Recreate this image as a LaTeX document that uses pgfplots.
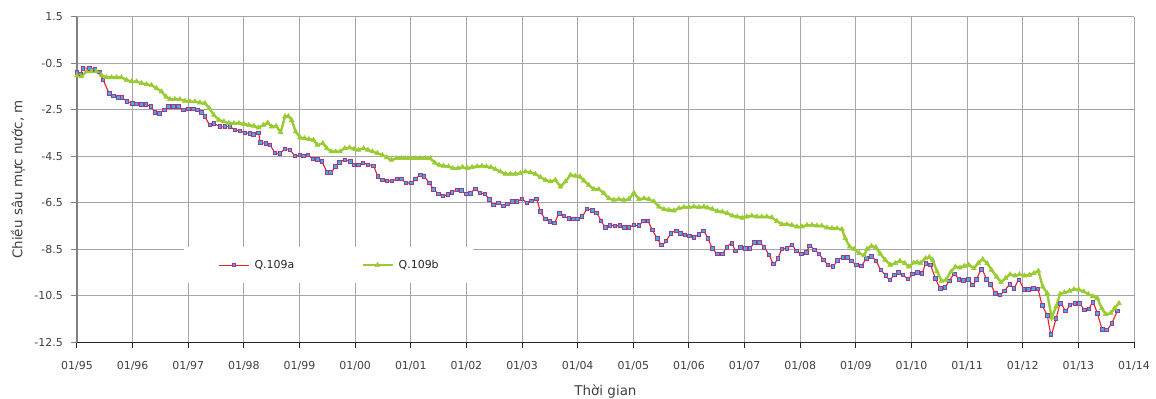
\documentclass[border=0pt]{standalone}
\usepackage{pgfplots}
\pgfplotsset{compat=1.18}
\usepackage{fontspec}
\setmainfont{DejaVu Sans}
\definecolor{redl}{RGB}{240,30,40}
\definecolor{sqedge}{RGB}{165,55,135}
\definecolor{sqfill}{RGB}{60,175,230}
\definecolor{grn}{RGB}{153,204,51}
\definecolor{gridc}{RGB}{166,166,166}
\definecolor{txt}{RGB}{64,64,64}
\begin{document}
\begin{tikzpicture}
\begin{axis}[
  at={(0,0)}, anchor=south west,
  scale only axis, width=1057bp, height=325.6bp,
  xmin=1995, xmax=2014, ymin=-12.5, ymax=1.5,
  xtick={1995,1996,1997,1998,1999,2000,2001,2002,2003,2004,2005,2006,2007,2008,2009,2010,2011,2012,2013,2014},
  xticklabels={01/95,01/96,01/97,01/98,01/99,01/00,01/01,01/02,01/03,01/04,01/05,01/06,01/07,01/08,01/09,01/10,01/11,01/12,01/13,01/14},
  ytick={1.5,-0.5,-2.5,-4.5,-6.5,-8.5,-10.5,-12.5},
  yticklabels={1.5,-0.5,-2.5,-4.5,-6.5,-8.5,-10.5,-12.5},
  axis lines=left,
  x axis line style={-, black!85, line width=1.2bp},
  y axis line style={-, black!50, line width=2bp},
  tick align=outside, major tick length=6bp,
  xtick style={black!85, line width=1bp},
  ytick style={black!50, line width=1bp},
  grid=major, grid style={gridc, line width=1bp},
  tick label style={font=\fontsize{11}{13}\selectfont, text=txt},
  xticklabel style={anchor=north, inner sep=0pt, yshift=-13bp},
  yticklabel style={anchor=east, inner sep=0pt, xshift=-8bp},
  xlabel={Thời gian},
  ylabel={Chiều sâu mực nước, m},
  xlabel style={at={(axis description cs:0.5,-0.1505)}, anchor=center, font=\fontsize{13.5}{15}\selectfont, text=txt},
  ylabel style={at={(axis description cs:-0.0558,0.5)}, anchor=center, font=\fontsize{13.5}{15}\selectfont, text=txt},
  legend columns=2,
  legend style={at={(0.238,0.237)}, anchor=center, draw=none, fill=white,
    inner xsep=34bp, inner ysep=13bp, font=\fontsize{11}{13}\selectfont,
    nodes={inner sep=0pt, text=black!85},
    /tikz/every odd column/.append style={column sep=5bp},
    /tikz/every even column/.append style={column sep=67bp}},
  legend image code/.code={\draw[mark repeat=2,mark phase=2,#1] plot coordinates {(0bp,0bp) (15bp,0bp) (30bp,0bp)};},
]
\addplot[redl, line width=1.1bp, smooth, tension=0.4, mark=square*, mark size=1.8bp,
  mark options={draw=sqedge, fill=sqfill, line width=0.9bp, solid}] coordinates {
(1995.00,-0.91) (1995.06,-0.96) (1995.11,-0.72) (1995.22,-0.72) (1995.32,-0.77) (1995.40,-0.88)
(1995.47,-1.22) (1995.58,-1.79) (1995.65,-1.90) (1995.74,-1.98) (1995.81,-1.98) (1995.90,-2.15)
(1996.00,-2.22) (1996.07,-2.25) (1996.16,-2.27) (1996.24,-2.27) (1996.33,-2.37) (1996.40,-2.61)
(1996.48,-2.65) (1996.57,-2.51) (1996.64,-2.37) (1996.73,-2.37) (1996.82,-2.37) (1996.91,-2.51)
(1997.00,-2.47) (1997.09,-2.47) (1997.17,-2.51) (1997.24,-2.61) (1997.30,-2.80) (1997.39,-3.16)
(1997.46,-3.08) (1997.57,-3.23) (1997.66,-3.23) (1997.75,-3.23) (1997.84,-3.37) (1997.93,-3.41)
(1998.02,-3.49) (1998.11,-3.51) (1998.17,-3.56) (1998.26,-3.49) (1998.30,-3.90) (1998.40,-3.94)
(1998.47,-4.02) (1998.56,-4.35) (1998.65,-4.37) (1998.74,-4.19) (1998.83,-4.23) (1998.92,-4.49)
(1999.01,-4.45) (1999.07,-4.49) (1999.15,-4.45) (1999.24,-4.62) (1999.32,-4.63) (1999.40,-4.73)
(1999.50,-5.19) (1999.56,-5.20) (1999.65,-4.95) (1999.72,-4.76) (1999.82,-4.66) (1999.91,-4.73)
(1999.98,-4.88) (2000.06,-4.88) (2000.14,-4.78) (2000.23,-4.88) (2000.33,-4.92) (2000.41,-5.38)
(2000.49,-5.52) (2000.57,-5.56) (2000.66,-5.56) (2000.75,-5.48) (2000.83,-5.48) (2000.91,-5.64)
(2001.01,-5.64) (2001.08,-5.48) (2001.17,-5.31) (2001.24,-5.38) (2001.33,-5.64) (2001.41,-5.92)
(2001.50,-6.12) (2001.58,-6.21) (2001.67,-6.13) (2001.74,-6.05) (2001.83,-5.95) (2001.91,-5.98)
(2002.00,-6.12) (2002.07,-6.09) (2002.16,-5.91) (2002.24,-6.07) (2002.33,-6.12) (2002.41,-6.35)
(2002.49,-6.60) (2002.58,-6.50) (2002.67,-6.64) (2002.74,-6.55) (2002.83,-6.45) (2002.91,-6.45)
(2003.00,-6.34) (2003.09,-6.50) (2003.17,-6.42) (2003.26,-6.34) (2003.33,-6.88) (2003.42,-7.20)
(2003.50,-7.31) (2003.58,-7.36) (2003.67,-6.95) (2003.75,-7.07) (2003.84,-7.17) (2003.92,-7.20)
(2004.00,-7.20) (2004.08,-7.10) (2004.17,-6.77) (2004.26,-6.84) (2004.34,-6.93) (2004.42,-7.28)
(2004.50,-7.55) (2004.58,-7.48) (2004.67,-7.50) (2004.76,-7.48) (2004.84,-7.55) (2004.92,-7.55)
(2005.01,-7.46) (2005.10,-7.48) (2005.18,-7.28) (2005.26,-7.28) (2005.34,-7.67) (2005.43,-8.03)
(2005.51,-8.32) (2005.59,-8.14) (2005.68,-7.81) (2005.77,-7.71) (2005.85,-7.81) (2005.93,-7.88)
(2006.01,-7.93) (2006.09,-7.98) (2006.18,-7.86) (2006.26,-7.71) (2006.34,-8.03) (2006.42,-8.46)
(2006.51,-8.70) (2006.60,-8.70) (2006.68,-8.41) (2006.77,-8.24) (2006.84,-8.57) (2006.93,-8.41)
(2007.02,-8.46) (2007.10,-8.46) (2007.18,-8.20) (2007.27,-8.20) (2007.35,-8.41) (2007.44,-8.74)
(2007.52,-9.13) (2007.60,-8.89) (2007.67,-8.49) (2007.76,-8.46) (2007.85,-8.32) (2007.93,-8.57)
(2008.02,-8.70) (2008.11,-8.63) (2008.17,-8.36) (2008.26,-8.53) (2008.34,-8.70) (2008.42,-8.96)
(2008.50,-9.17) (2008.59,-9.24) (2008.67,-8.98) (2008.77,-8.84) (2008.85,-8.84) (2008.92,-9.00)
(2009.01,-9.17) (2009.10,-9.21) (2009.19,-8.89) (2009.28,-8.82) (2009.36,-9.00) (2009.45,-9.39)
(2009.54,-9.63) (2009.61,-9.82) (2009.69,-9.60) (2009.77,-9.50) (2009.85,-9.60) (2009.94,-9.78)
(2010.02,-9.56) (2010.11,-9.49) (2010.19,-9.53) (2010.26,-9.10) (2010.34,-9.17) (2010.43,-9.75)
(2010.52,-10.18) (2010.60,-10.13) (2010.68,-9.86) (2010.77,-9.56) (2010.85,-9.79) (2010.93,-9.84)
(2011.02,-9.79) (2011.10,-10.03) (2011.17,-9.79) (2011.26,-9.36) (2011.35,-9.79) (2011.42,-10.01)
(2011.51,-10.39) (2011.59,-10.46) (2011.67,-10.29) (2011.77,-10.01) (2011.84,-10.18) (2011.93,-9.82)
(2012.02,-10.22) (2012.10,-10.22) (2012.19,-10.18) (2012.27,-10.20) (2012.35,-10.92) (2012.44,-11.35)
(2012.51,-12.15) (2012.60,-11.47) (2012.68,-10.82) (2012.77,-11.15) (2012.85,-10.90) (2012.94,-10.82)
(2013.02,-10.82) (2013.11,-11.11) (2013.19,-11.07) (2013.26,-10.78) (2013.34,-11.25) (2013.43,-11.94)
(2013.51,-11.97) (2013.60,-11.68) (2013.70,-11.15)
};
\addlegendentry{Q.109a}
\addplot[grn, line width=2.4bp, mark=triangle*, mark size=2.8bp,
  mark options={draw=grn, fill=grn, line width=0.5bp, solid}] coordinates {
(1995.00,-1.03) (1995.08,-1.07) (1995.17,-0.86) (1995.26,-0.86) (1995.35,-0.86) (1995.44,-1.01)
(1995.53,-1.11) (1995.62,-1.11) (1995.71,-1.11) (1995.80,-1.11) (1995.89,-1.22) (1995.98,-1.29)
(1996.07,-1.29) (1996.16,-1.36) (1996.25,-1.41) (1996.34,-1.44) (1996.43,-1.58) (1996.52,-1.72)
(1996.60,-1.94) (1996.67,-2.05) (1996.76,-2.05) (1996.85,-2.05) (1996.94,-2.12) (1997.03,-2.15)
(1997.12,-2.15) (1997.21,-2.20) (1997.30,-2.22) (1997.38,-2.44) (1997.46,-2.73) (1997.55,-2.94)
(1997.64,-3.01) (1997.73,-3.08) (1997.82,-3.08) (1997.91,-3.08) (1998.00,-3.11) (1998.09,-3.16)
(1998.18,-3.20) (1998.26,-3.27) (1998.35,-3.16) (1998.43,-3.06) (1998.50,-3.23) (1998.58,-3.20)
(1998.66,-3.47) (1998.74,-2.79) (1998.80,-2.78) (1998.86,-2.95) (1998.93,-3.44) (1999.01,-3.70)
(1999.09,-3.73) (1999.17,-3.77) (1999.25,-3.80) (1999.32,-4.02) (1999.42,-3.94) (1999.49,-4.16)
(1999.57,-4.30) (1999.65,-4.30) (1999.73,-4.30) (1999.81,-4.16) (1999.90,-4.13) (1999.98,-4.19)
(2000.06,-4.23) (2000.15,-4.16) (2000.23,-4.23) (2000.31,-4.30) (2000.40,-4.37) (2000.49,-4.45)
(2000.57,-4.55) (2000.65,-4.66) (2000.74,-4.59) (2000.83,-4.59) (2000.91,-4.59) (2001.00,-4.59)
(2001.09,-4.59) (2001.18,-4.59) (2001.26,-4.59) (2001.35,-4.59) (2001.43,-4.78) (2001.51,-4.88)
(2001.59,-4.92) (2001.68,-4.94) (2001.76,-5.02) (2001.85,-5.02) (2001.93,-4.97) (2002.02,-5.02)
(2002.10,-4.97) (2002.19,-4.94) (2002.28,-4.92) (2002.36,-4.94) (2002.44,-4.97) (2002.52,-5.06)
(2002.61,-5.16) (2002.70,-5.26) (2002.79,-5.26) (2002.88,-5.26) (2002.97,-5.23) (2003.06,-5.16)
(2003.15,-5.20) (2003.24,-5.26) (2003.33,-5.40) (2003.42,-5.52) (2003.51,-5.59) (2003.60,-5.52)
(2003.69,-5.81) (2003.78,-5.59) (2003.87,-5.31) (2003.96,-5.35) (2004.04,-5.38) (2004.11,-5.55)
(2004.20,-5.74) (2004.29,-5.92) (2004.38,-5.92) (2004.47,-6.09) (2004.56,-6.31) (2004.65,-6.38)
(2004.74,-6.35) (2004.83,-6.38) (2004.92,-6.35) (2005.01,-6.07) (2005.10,-6.35) (2005.19,-6.31)
(2005.28,-6.35) (2005.37,-6.45) (2005.46,-6.67) (2005.55,-6.78) (2005.64,-6.81) (2005.73,-6.84)
(2005.82,-6.74) (2005.91,-6.69) (2006.00,-6.69) (2006.09,-6.67) (2006.18,-6.69) (2006.27,-6.67)
(2006.33,-6.71) (2006.42,-6.77) (2006.51,-6.86) (2006.60,-6.89) (2006.69,-6.95) (2006.78,-7.06)
(2006.87,-7.10) (2006.96,-7.15) (2007.04,-7.10) (2007.13,-7.06) (2007.22,-7.10) (2007.31,-7.10)
(2007.40,-7.10) (2007.49,-7.13) (2007.58,-7.29) (2007.67,-7.43) (2007.76,-7.43) (2007.85,-7.46)
(2007.94,-7.53) (2008.03,-7.53) (2008.12,-7.46) (2008.21,-7.46) (2008.30,-7.49) (2008.39,-7.49)
(2008.48,-7.57) (2008.57,-7.60) (2008.66,-7.60) (2008.75,-7.64) (2008.81,-8.03) (2008.89,-8.39)
(2008.97,-8.49) (2009.06,-8.67) (2009.15,-8.77) (2009.20,-8.49) (2009.28,-8.36) (2009.36,-8.41)
(2009.44,-8.70) (2009.53,-8.96) (2009.62,-9.17) (2009.71,-9.10) (2009.79,-9.00) (2009.88,-9.10)
(2009.95,-9.25) (2010.04,-9.08) (2010.10,-9.06) (2010.16,-9.10) (2010.25,-8.89) (2010.32,-8.84)
(2010.38,-8.96) (2010.46,-9.46) (2010.54,-9.86) (2010.62,-9.82) (2010.71,-9.46) (2010.79,-9.25)
(2010.87,-9.29) (2010.95,-9.22) (2011.03,-9.17) (2011.12,-9.32) (2011.20,-9.10) (2011.28,-8.93)
(2011.36,-9.10) (2011.44,-9.39) (2011.53,-9.68) (2011.61,-9.92) (2011.69,-9.75) (2011.77,-9.58)
(2011.86,-9.64) (2011.94,-9.58) (2012.03,-9.64) (2012.12,-9.60) (2012.20,-9.53) (2012.28,-9.43)
(2012.36,-10.11) (2012.44,-10.39) (2012.52,-11.44) (2012.60,-10.97) (2012.67,-10.43) (2012.75,-10.36)
(2012.84,-10.29) (2012.92,-10.22) (2013.01,-10.24) (2013.10,-10.32) (2013.18,-10.43) (2013.26,-10.53)
(2013.34,-10.60) (2013.42,-11.04) (2013.49,-11.29) (2013.58,-11.25) (2013.65,-11.04) (2013.73,-10.82)
};
\addlegendentry{Q.109b}
\end{axis}
\pgfresetboundingbox
\useasboundingbox (-77bp,-56.7bp) rectangle (1079bp,342.3bp);
\end{tikzpicture}
\end{document}
